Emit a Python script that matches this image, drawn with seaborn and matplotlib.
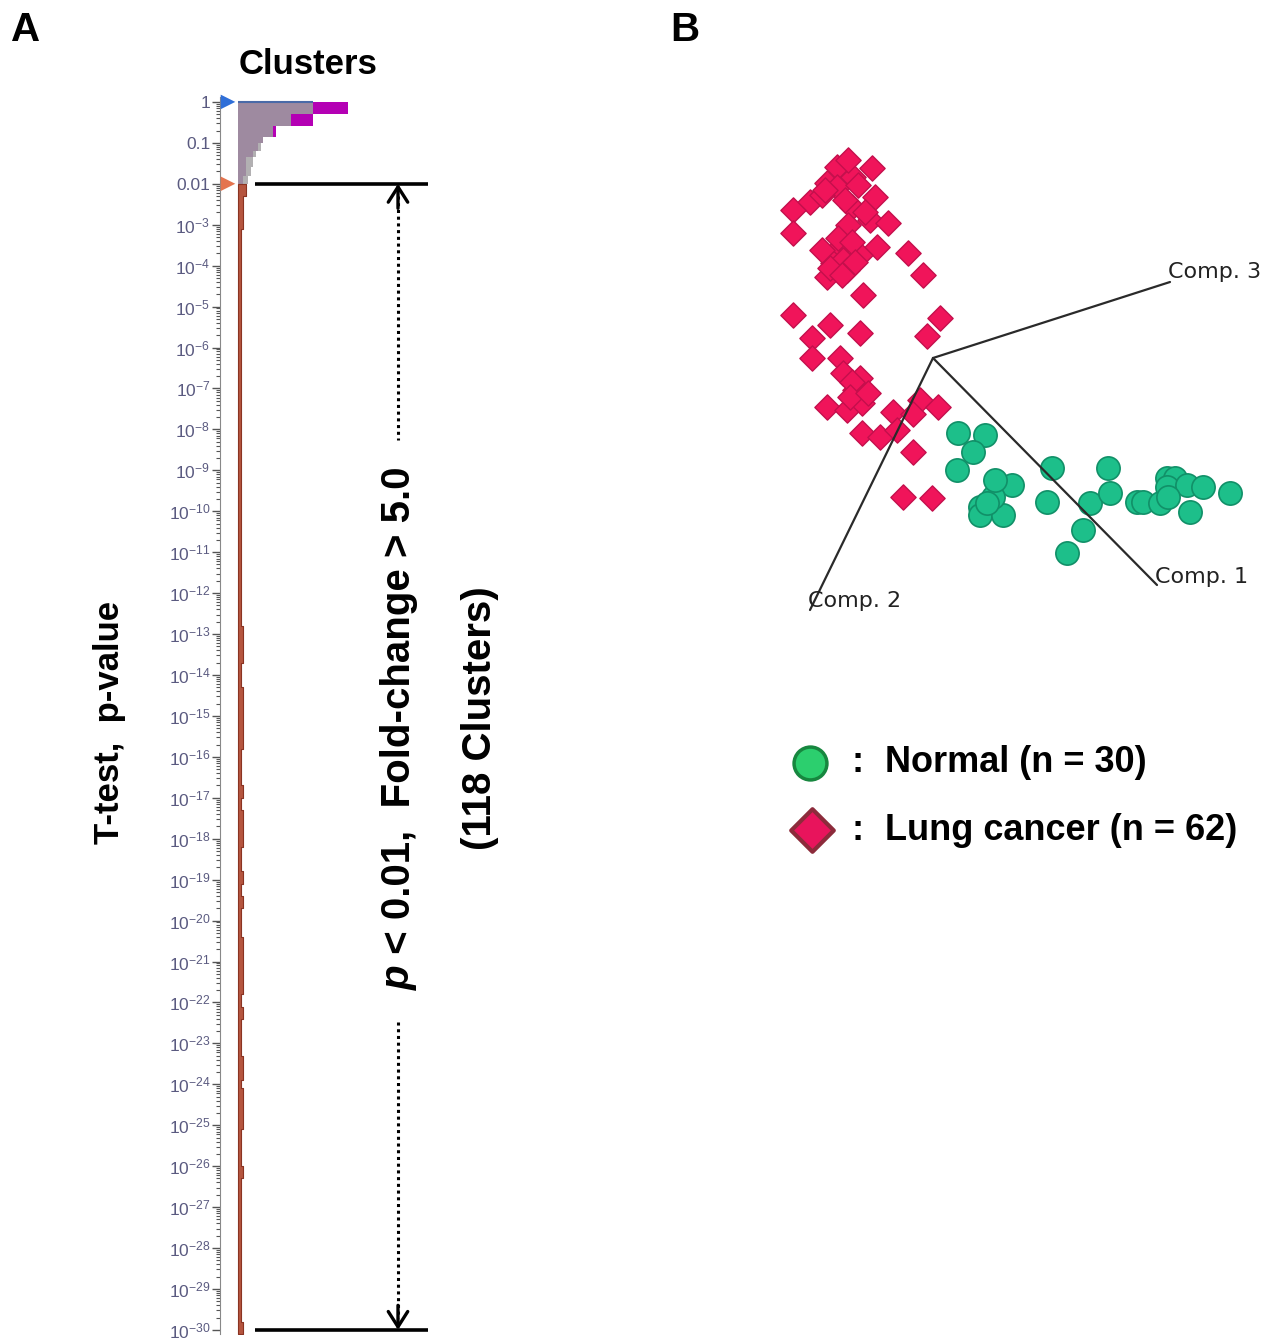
import numpy as np
import pandas as pd
import matplotlib
matplotlib.use("Agg")
import matplotlib.pyplot as plt
import seaborn as sns
from matplotlib.ticker import FixedLocator

# ---------------- Panel A data (log10 p-value bins, cluster counts) ----------------
upper_edges = [-2.0, -1.8, -1.6, -1.35, -1.2, -1.0, -0.85, -0.6, -0.3, 0.0]
magenta_counts = [4, 5, 6, 7, 9, 10, 15, 30, 44]
grey_counts = [4, 5, 6, 7, 9, 10, 14, 21, 30]
lavender_counts = [2, 3, 3, 6, 8, 10, 14, 21, 30]

red_edges = [-30.1, -29.8, -26.3, -26.0, -25.1, -24.1, -23.9, -23.3, -22.4, -22.1,
             -21.8, -20.4, -19.7, -19.4, -19.1, -18.8, -18.2, -17.3, -17.0, -16.7,
             -15.8, -14.3, -13.7, -12.8, -3.1, -2.3, -2.0]
red_counts = [2, 1, 2, 1, 2, 1, 2, 1, 2, 1,
              2, 1, 2, 1, 2, 1, 2, 1, 2, 1,
              2, 1, 2, 1, 2, 3]

thresholds = [0, -2]          # p = 1 and p = 0.01 markers
cut_levels = [-2, -30]        # p < 0.01 ... 1e-30 bracket
ytick_vals = list(range(-30, 1))
ytick_labels = [r"$10^{%d}$" % v if v < -2 else {0: "1", -1: "0.1", -2: "0.01"}[v] for v in ytick_vals]

# ---------------- Panel B data (PCA scores, projected) ----------------
cancer_x = [-9.6, -6.1, -8.0, -10.6, -9.6, -12.3, -14.0, -11.1, -8.1, -5.8,
            -6.3, -8.5, -4.5, -14.0, -5.6, -7.3, -9.6, -10.0, -9.0, -8.6,
            -10.6, -2.5, -1.0, -7.0, -14.0, -10.3, -7.3, 0.7, -0.6, -12.1,
            -12.1, -9.3, -9.0, -7.3, -7.8, -10.6, -8.6, -7.1, -4.0, -1.3,
            0.5, -2.0, -7.1, -5.3, -3.6, -2.0, -3.0, -0.1, -10.8, -8.8,
            -7.5, -6.8, -9.5, -8.1, -10.3, -9.1, -7.8, -11.1, -8.5, -8.1,
            -8.3, -6.5]
cancer_y = [19.1, 19.0, 18.1, 17.5, 17.1, 15.6, 14.8, 16.3, 15.1, 16.1,
            13.8, 13.3, 13.5, 12.5, 11.1, 10.3, 10.8, 9.5, 9.8, 8.8,
            8.1, 10.5, 8.3, 6.3, 4.3, 3.3, 2.5, 4.0, 2.2, 2.0,
            0.0, 0.0, -1.5, -2.0, -3.2, -4.9, -5.2, -4.5, -5.4, -4.2,
            -4.9, -5.6, -7.5, -7.9, -7.2, -9.4, -13.9, -14.0, 16.8, 15.8,
            17.3, 14.6, 12.0, 11.6, 9.0, 8.3, 9.6, 10.8, 19.8, -2.4,
            -3.9, -3.5]
normal_x = [2.5, 5.2, 4.0, 2.4, 6.4, 7.9, 4.7, 4.7, 7.0, 6.0,
            11.9, 11.4, 15.7, 17.5, 17.7, 15.0, 13.4, 20.4, 21.0, 22.7,
            23.4, 24.2, 23.4, 25.4, 27.0, 29.7, 25.7, 23.5, 5.4, 6.2]
normal_y = [-7.5, -7.7, -9.4, -11.2, -12.5, -12.7, -14.9, -15.7, -15.7, -13.9,
            -11.0, -14.4, -14.5, -11.0, -13.5, -17.2, -19.5, -14.4, -14.4, -14.5,
            -12.0, -12.0, -12.9, -12.7, -12.9, -13.5, -15.4, -13.9, -14.5, -12.2]

comp_names = ["Comp. 1", "Comp. 2", "Comp. 3"]
comp_end_x = [22.4, -12.3, 23.7]
comp_end_y = [-22.7, -25.2, 7.6]

# ---------------- figure ----------------
sns.set_theme(style="white")
plt.rcParams["font.family"] = ["Liberation Sans", "DejaVu Sans"]
plt.rcParams["text.color"] = "black"
plt.rcParams["mathtext.fontset"] = "custom"
plt.rcParams["mathtext.rm"] = "Liberation Sans"
plt.rcParams["mathtext.it"] = "Liberation Sans:italic"
plt.rcParams["mathtext.bf"] = "Liberation Sans:bold"

W, H = 1269, 1339
fig = plt.figure(figsize=(W / 100, H / 100), dpi=100)
fig.patch.set_facecolor("white")

# Panel A axes
axA = fig.add_axes([220 / W, 1 - 1334 / H, 220 / W, 1237 / H])
axA.patch.set_alpha(0)


def hist_layer(edges, counts, color, ec=None, lw=0.0):
    e = np.asarray(edges, float)
    centers = (e[:-1] + e[1:]) / 2
    sns.histplot(y=centers, weights=list(counts), bins=list(e), element="step", fill=True,
                 color=color, alpha=1, linewidth=lw,
                 edgecolor=(ec if ec is not None else color), ax=axA)


hist_layer(upper_edges, magenta_counts, "#b400b4")
hist_layer(upper_edges, grey_counts, "#b2b0b2")
hist_layer(upper_edges, lavender_counts, "#9e8aa0")
hist_layer(red_edges, red_counts, "#b5553f", ec="#8a3322", lw=0.8)
axA.hlines(0, 0, lavender_counts[-1], color="#4a6aa8", lw=1.5, zorder=4)

axA.set_xlim(-7.2, 80.8)
axA.set_ylim(-30.1, 0.12)
axA.set_xlabel("")
axA.set_ylabel("")
axA.set_xticks([])
axA.set_yticks(ytick_vals)
axA.set_yticklabels(ytick_labels)
minor = [n + np.log10(k) for n in range(-30, 0) for k in range(2, 10)]
axA.yaxis.set_minor_locator(FixedLocator(minor))
axA.tick_params(axis="y", which="major", left=True, length=6, width=1.0, color="#555555",
                labelsize=12.5, labelcolor="#5a5a80", pad=1, direction="out")
axA.tick_params(axis="y", which="minor", left=True, length=3, width=0.8, color="#555555")
for s in ["top", "right", "bottom"]:
    axA.spines[s].set_visible(False)
axA.spines["left"].set_color("#888888")
axA.spines["left"].set_linewidth(0.8)

# threshold markers
axA.scatter([-4, -4], thresholds, marker=">", s=110, c=["#2f6fd8", "#e4744f"],
            clip_on=False, zorder=6, linewidths=0)

# bracket lines and dotted arrows
for lev in cut_levels:
    axA.plot([6.8, 76], [lev, lev], color="black", lw=2.6, solid_capstyle="butt",
             clip_on=False, zorder=5)
arr_x = 64
axA.plot([arr_x, arr_x], [cut_levels[0] - 0.3, -8.27], color="black", lw=2.2,
         linestyle=(0, (1, 1.2)), clip_on=False)
axA.plot([arr_x, arr_x], [-22.48, cut_levels[1] + 0.3], color="black", lw=2.2,
         linestyle=(0, (1, 1.2)), clip_on=False)
for tip, tail in [(cut_levels[0], cut_levels[0] - 0.6), (cut_levels[1], cut_levels[1] + 0.6)]:
    axA.annotate("", xy=(arr_x, tip), xytext=(arr_x, tail),
                 arrowprops=dict(arrowstyle="->,head_length=0.55,head_width=0.35",
                                 lw=2.4, color="black", mutation_scale=20,
                                 shrinkA=0, shrinkB=0),
                 annotation_clip=False)

# Panel B axes
axB = fig.add_axes([760 / W, 1 - 640 / H, 509 / W, 510 / H])
axB.set_xlim(-17.3, 33.6)
axB.set_ylim(-28.2, 22.8)
axB.axis("off")

df_c = pd.DataFrame({"x": cancer_x, "y": cancer_y})
df_n = pd.DataFrame({"x": normal_x, "y": normal_y})
sns.scatterplot(data=df_c, x="x", y="y", marker="D", s=165, color="#f0145a",
                edgecolor="#c40f4c", linewidth=1.0, ax=axB, legend=False, zorder=2)
sns.scatterplot(data=df_n, x="x", y="y", marker="o", s=280, color="#1dbf8a",
                edgecolor="#119068", linewidth=1.2, ax=axB, legend=False, zorder=2)
lab_dx = [-0.2, -0.2, -0.2]
lab_dy = [0.8, 0.9, 1.0]
for name, ex, ey, dx, dy in zip(comp_names, comp_end_x, comp_end_y, lab_dx, lab_dy):
    axB.plot([0, ex], [0, ey], color="#2a2a2a", lw=1.6, zorder=3)
    axB.text(ex + dx, ey + dy, name, ha="left", va="center", fontsize=16,
             family="DejaVu Sans", color="#222222", zorder=4)

# Overlay axes for annotation text (pixel coordinates)
ov = fig.add_axes([0, 0, 1, 1])
ov.set_xlim(0, W)
ov.set_ylim(H, 0)
ov.axis("off")

ov.text(26, 30, "A", fontsize=29, fontweight="bold", ha="center", va="center")
ov.text(685, 30, "B", fontsize=29, fontweight="bold", ha="center", va="center")
ov.text(308, 64, "Clusters", fontsize=25, fontweight="bold", ha="center", va="center")
ov.text(110, 722, "T-test,  p-value", fontsize=25, fontweight="bold", rotation=90,
        ha="center", va="center")
ov.text(410, 965, "p", fontsize=29, fontweight="bold", fontstyle="italic", rotation=90,
        rotation_mode="anchor", ha="right", va="baseline")
ov.text(410, 965, " < 0.01,  Fold-change > 5.0", fontsize=29, fontweight="bold",
        rotation=90, rotation_mode="anchor", ha="left", va="baseline")
ov.text(480, 718, "(118 Clusters)", fontsize=29, fontweight="bold", rotation=90,
        ha="center", va="center")

# legend
ov.scatter([810], [763], s=560, marker="o", facecolor="#2ccf6e", edgecolor="#17873f",
           linewidths=2.5, zorder=5)
ov.scatter([812], [830], s=470, marker="D", facecolor="#e8145c", edgecolor="#8c2b3b",
           linewidths=3, zorder=5)
for yy, txt in [(763, "Normal (n = 30)"), (830, "Lung cancer (n = 62)")]:
    ov.text(858, yy, ":", fontsize=26, fontweight="bold", ha="center", va="center")
    ov.text(885, yy, txt, fontsize=26, fontweight="bold", ha="left", va="center")

fig.savefig("out.png", dpi=100, facecolor="white")
